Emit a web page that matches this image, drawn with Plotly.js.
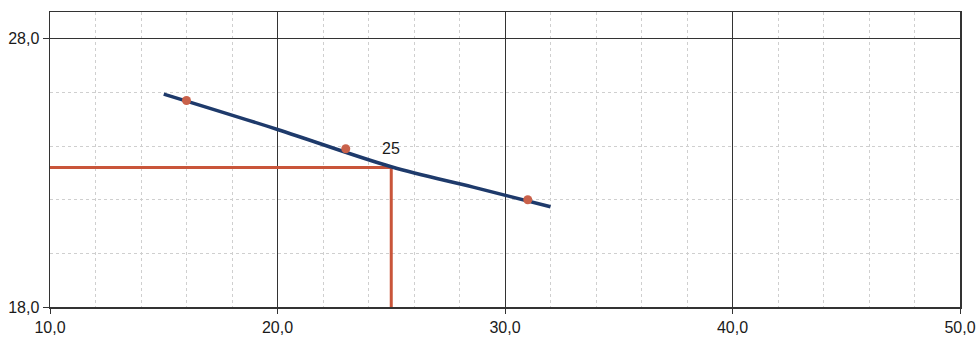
<!DOCTYPE html>
<html>
<head>
<meta charset="utf-8">
<script src="https://cdn.plot.ly/plotly-3.0.1.min.js"></script>
<style>html,body{margin:0;padding:0;background:#fff;}#chart{width:977px;height:338px;}</style>
</head>
<body>
<div id="chart"></div>
<script>
// Fitted curve
var curveX = [15.0, 20.0, 25.0, 28.6, 32.0];
var curveY = [25.94, 24.62, 23.23, 22.47, 21.74];
// Measured points
var pointX = [16.0, 23.0, 31.0];
var pointY = [25.7, 23.9, 22.0];
// Read-off guide (x = 25 -> y)
var guideX = [10.0, 25.0, 25.0];
var guideY = [23.2, 23.2, 18.0];
var guideLabel = "25";

var traces = [
  {x: guideX, y: guideY, mode: 'lines', line: {color: '#c9553a', width: 3}, hoverinfo: 'skip'},
  {x: curveX, y: curveY, mode: 'lines', line: {color: '#1e3a6b', width: 3.5, shape: 'spline'}},
  {x: pointX, y: pointY, mode: 'markers', marker: {color: '#c9614a', size: 9}}
];

var tickFont = {family: 'Liberation Sans, Arial, sans-serif', size: 16, color: '#1a1a1a'};

var layout = {
  width: 977, height: 338,
  margin: {l: 50, r: 17, t: 12, b: 31},
  paper_bgcolor: '#fff', plot_bgcolor: '#fff',
  showlegend: false,
  separators: ',.',
  font: {family: 'Liberation Sans, Arial, sans-serif', size: 16, color: '#1a1a1a'},
  xaxis: {
    range: [10, 50], tick0: 10, dtick: 10, tickformat: '.1f', tickfont: tickFont,
    showgrid: true, gridcolor: '#333', gridwidth: 1,
    minor: {dtick: 2, showgrid: true, gridcolor: '#cfcfcf', griddash: 'dot', gridwidth: 1},
    showline: true, linecolor: '#333', linewidth: 1.5, mirror: true,
    ticks: 'outside', ticklen: 5, tickcolor: '#333',
    zeroline: false
  },
  yaxis: {
    range: [18, 29], tick0: 18, dtick: 10, tickformat: '.1f', tickfont: tickFont,
    showgrid: true, gridcolor: '#333', gridwidth: 1,
    minor: {dtick: 2, showgrid: true, gridcolor: '#cfcfcf', griddash: 'dot', gridwidth: 1},
    showline: true, linecolor: '#333', linewidth: 1.5, mirror: true,
    ticks: 'outside', ticklen: 6, tickcolor: '#333',
    zeroline: false
  },
  annotations: [
    {x: guideX[1], y: guideY[1], text: guideLabel, showarrow: false, yshift: 19, xshift: 0,
     font: {size: 16, color: '#1a1a1a'}}
  ]
};

Plotly.newPlot('chart', traces, layout, {staticPlot: true, displayModeBar: false});
</script>
</body>
</html>
